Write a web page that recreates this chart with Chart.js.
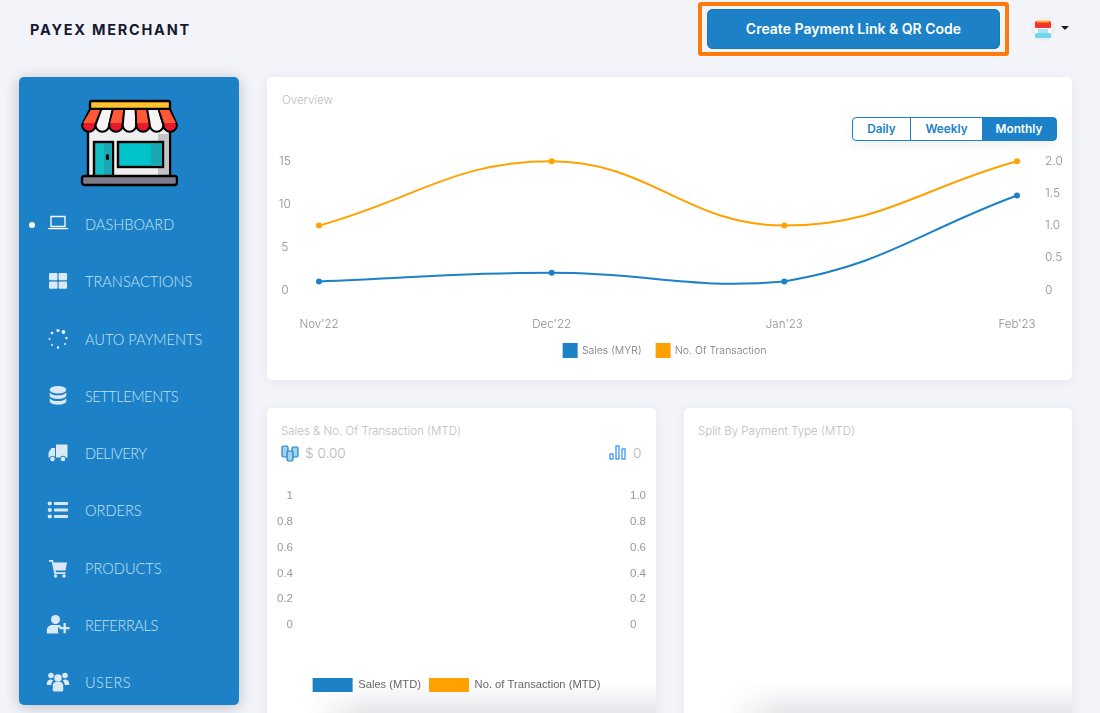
<!DOCTYPE html>
<html><head><meta charset="utf-8">
<script src="https://cdn.jsdelivr.net/npm/chart.js@4"></script>
<style>
*{box-sizing:border-box}
html,body{margin:0;padding:0;width:1100px;height:713px;overflow:hidden;background:#f3f4f9;font-family:Inter,"Open Sans",sans-serif}
.abs{position:absolute}
.brand{left:30px;top:21px;font-size:14.5px;font-weight:700;letter-spacing:1.75px;color:#161a30}
.ctaBox{left:698px;top:2px;width:311px;height:54px;border:4px solid #ff7a0b;border-radius:3px;}
.cta{left:707px;top:9px;width:293px;height:40px;padding-bottom:2px;background:#1c81c6;border-radius:6px;color:#fff;font-size:14px;font-weight:600;display:flex;align-items:center;justify-content:center;box-shadow:0 0 0 1px #1a78ba inset}
.side{left:19px;top:77px;width:220px;height:628px;background:#1c81c6;border-radius:5px;box-shadow:0 2px 14px rgba(60,60,90,.3)}
.nav{position:absolute;left:85px;margin-top:1px;font-family:Lato,Inter,sans-serif;font-size:14.6px;font-weight:300;color:#c6e1f5;line-height:20px;transform:translateY(-50%);white-space:nowrap}
.nicon{position:absolute;left:46px;width:24px;height:24px;transform:translateY(-50%);fill:#d9e9f6}
.card{position:absolute;background:#fff;border-radius:5px;box-shadow:0 1px 12px rgba(70,70,110,.07);overflow:hidden}
.title{position:absolute;font-size:11.5px;font-weight:300;color:#bdbdbd;white-space:nowrap}
.btns{left:852px;top:117px;width:205px;height:24px;border:1px solid #1c81c6;border-radius:4px;display:flex;font-size:11.8px;font-weight:600;color:#1c81c6;background:#fff;box-shadow:0 4px 10px rgba(60,60,90,.08)}
.btns div{display:flex;align-items:center;justify-content:center}
.shade{position:absolute;bottom:0;height:30px;background:linear-gradient(to bottom,rgba(225,226,230,0),rgba(225,226,230,.85));-webkit-mask-image:linear-gradient(to right,transparent 0,#000 60px,#000 100%)}
canvas{position:absolute}
</style></head>
<body>
<div class="abs brand">PAYEX MERCHANT</div>
<div class="abs ctaBox"></div>
<div class="abs cta">Create Payment Link &amp; QR Code</div>
<svg class="abs" style="left:1030px;top:16px" width="46" height="26" viewBox="0 0 46 26">
<circle cx="13" cy="13" r="12" fill="#eeeeee"/>
<rect x="5" y="5" width="16" height="8" rx="2" fill="#f0372f"/><rect x="7" y="4.500" width="12" height="2" fill="#ffb02e"/>
<rect x="5" y="12" width="16" height="6" fill="#f7f7f7"/><rect x="5" y="17" width="16" height="5" rx="1.500" fill="#6fd6ec"/><rect x="8" y="13" width="10" height="4" fill="#a9e3f0"/>
<path d="M31 10h8l-4 4z" fill="#1b1b2a"/>
</svg>

<div class="abs side"></div>
<svg id="shop" class="abs" style="left:80px;top:98px" width="98" height="90" viewBox="0 0 98 90">
<rect x="10" y="3" width="80" height="8" rx="1.500" fill="#ffc22e" stroke="#000" stroke-width="2.400"/>
<rect x="8" y="30" width="82" height="50" fill="#efefef" stroke="#000" stroke-width="2.400"/>
<rect x="78" y="36" width="11" height="42" fill="#c3c3c6"/>
<rect x="14" y="44" width="19" height="35" fill="#12bfc6" stroke="#000" stroke-width="2.400"/>
<rect x="24" y="46" width="8" height="31" fill="#1ca6b3"/><rect x="26" y="56" width="3" height="6" rx="1.500" fill="#000"/>
<rect x="38" y="44" width="45" height="25" fill="#00c4c9" stroke="#000" stroke-width="2.400"/><rect x="71" y="46" width="11" height="22" fill="#1aa9b2"/>
<rect x="2" y="78" width="95" height="9" rx="2.500" fill="#7b7b8a" stroke="#000" stroke-width="2.400"/>
</svg>
<div class="abs" style="left:29px;top:222px;width:6px;height:6px;border-radius:50%;background:#fff"></div>

<div class="nav" style="top:224px">DASHBOARD</div>
<div class="nav" style="top:281px">TRANSACTIONS</div>
<div class="nav" style="top:339px">AUTO PAYMENTS</div>
<div class="nav" style="top:396px;letter-spacing:-.45px">SETTLEMENTS</div>
<div class="nav" style="top:453px;letter-spacing:-.6px">DELIVERY</div>
<div class="nav" style="top:510px">ORDERS</div>
<div class="nav" style="top:568px">PRODUCTS</div>
<div class="nav" style="top:625px;letter-spacing:-.4px">REFERRALS</div>
<div class="nav" style="top:682px;letter-spacing:.5px">USERS</div>

<svg class="nicon" style="top:224px" viewBox="0 0 24 24"><path fill="none" stroke="#fff" stroke-width="1.300" d="M5 4.500h14v10H5z"/><path fill="#fff" d="M1.500 16h21l-1 1.200h-19z"/></svg>
<svg class="nicon" style="top:281px" viewBox="0 0 24 24"><rect x="3" y="4" width="8.500" height="7.300" rx="1.200"/><rect x="12.600" y="4" width="8.500" height="7.300" rx="1.200"/><rect x="3" y="12.500" width="8.500" height="7.300" rx="1.200"/><rect x="12.600" y="12.500" width="8.500" height="7.300" rx="1.200"/></svg>
<svg class="nicon" style="top:339px" viewBox="0 0 24 24"><g fill="#e9f2fa"><circle cx="12" cy="3.500" r="1.600"/><circle cx="17.500" cy="5" r="1.900"/><circle cx="20.500" cy="11" r="1.200"/><circle cx="19" cy="17" r="1"/><circle cx="12" cy="20.500" r="1.200"/><circle cx="6" cy="18" r="1"/><circle cx="3.500" cy="12" r="1"/><circle cx="6" cy="6" r="1.300"/></g></svg>
<svg class="nicon" style="top:396px" viewBox="0 0 24 24"><ellipse cx="12" cy="5.800" rx="8.300" ry="3.800"/><path d="M3.700 8.500c1.500 2 4.500 2.800 8.300 2.800s6.800-.8 8.300-2.800v3.500c-1 2-4.500 3-8.300 3s-7.300-1-8.300-3zM3.700 14.300c1.500 2 4.500 2.800 8.300 2.800s6.800-.8 8.300-2.800v3.500c-1 2-4.500 3-8.300 3s-7.300-1-8.300-3z"/></svg>
<svg class="nicon" style="top:453px" viewBox="0 0 24 24"><path d="M10 3.500h11.500v13H10zM9 7H5.500L2.500 11.500v5H9z"/><circle cx="6.500" cy="18" r="2.800" stroke="#1c81c6"/><circle cx="17" cy="18" r="2.800" stroke="#1c81c6"/></svg>
<svg class="nicon" style="top:510px" viewBox="0 0 24 24"><circle cx="3.800" cy="5.500" r="2.100"/><circle cx="3.800" cy="12" r="2.100"/><circle cx="3.800" cy="18.500" r="2.100"/><rect x="8" y="4" width="14" height="3" rx=".7"/><rect x="8" y="10.500" width="14" height="3" rx=".7"/><rect x="8" y="17" width="14" height="3" rx=".7"/></svg>
<svg class="nicon" style="top:568px" viewBox="0 0 24 24"><path d="M3 4h4l.6 2.500H21l-1.500 8H9.500l.4 1.800h9.600v1.700H8.300L5.700 5.700H3z"/><circle cx="9.500" cy="20" r="1.700"/><circle cx="18" cy="20" r="1.700"/></svg>
<svg class="nicon" style="top:625px" viewBox="0 0 24 24"><circle cx="9.500" cy="6.500" r="4.500"/><path d="M.8 20.500v-3c0-3.500 2.700-5.500 6-5.500h5.500c1 0 2 .3 2.700.7v1.800h-3v5.500l1.500.5z"/><path d="M18 10.500h2.300v4H24v2.300h-3.700v4H18v-4h-4v-2.300h4z" transform="translate(-.5 -.5)"/></svg>
<svg class="nicon" style="top:682px" viewBox="0 0 24 24"><circle cx="5" cy="5.500" r="2.800"/><circle cx="19" cy="5.500" r="2.800"/><circle cx="12" cy="8" r="3.800"/><path d="M.8 14c0-3 1.500-4.500 4-4.500 1 0 1.800.3 2.500 1-1.200 1.200-2 2.800-2 4.500H.8zM23.200 14c0-3-1.500-4.500-4-4.500-1 0-1.800.3-2.500 1 1.200 1.200 2 2.800 2 4.500h4.500zM6.800 15.500c0-2.300 1.500-3.500 3-3.500h4.400c1.500 0 3 1.200 3 3.500v4.500c0 1-1 1.500-2 1.500H8.800c-1 0-2-.5-2-1.500z"/></svg>

<div class="card" style="left:267px;top:77px;width:805px;height:303px"></div>
<div class="title" style="left:282px;top:93px">Overview</div>
<div class="abs btns">
  <div style="width:58px;border-right:1.500px solid #1c81c6">Daily</div>
  <div style="width:71px">Weekly</div>
  <div style="flex:1;background:#1c81c6;color:#fff">Monthly</div>
</div>

<div class="card" style="left:267px;top:408px;width:389px;height:320px"><div class="shade" style="left:40px;right:0;bottom:15px"></div></div>
<div class="title" style="left:281px;top:424px">Sales &amp; No. Of Transaction (MTD)</div>
<svg class="abs" style="left:281px;top:445px" width="18" height="17" viewBox="0 0 18 17"><g fill="#9fd2ee" stroke="#1c81c6" stroke-width="1.200"><rect x="1" y="1" width="6" height="11" rx="1.500"/><rect x="11" y="2" width="6" height="10" rx="1.500"/><rect x="6" y="6" width="6" height="10" rx="1.500"/></g></svg>
<div class="abs" style="left:305px;top:445px;font-size:13.600px;font-weight:300;color:#b5b5b5">$ 0.00</div>
<svg class="abs" style="left:609px;top:445px" width="17" height="15" viewBox="0 0 17 15"><g fill="none" stroke="#2d8ff0" stroke-width="1.200"><rect x="1" y="9" width="3" height="5"/><rect x="7" y="1" width="3" height="13"/><rect x="13" y="4" width="3" height="10"/></g></svg>
<div class="abs" style="left:633px;top:445px;font-size:13.600px;font-weight:300;color:#b5b5b5">0</div>

<div class="card" style="left:684px;top:408px;width:388px;height:320px"><div class="shade" style="left:40px;right:0;bottom:15px"></div></div>
<div class="title" style="left:698px;top:424px">Split By Payment Type (MTD)</div>

<canvas id="overview" style="left:265px;top:134px;width:800px;height:233px" width="800" height="233"></canvas>
<canvas id="mtd" style="left:267px;top:480px;width:379px;height:222px" width="379" height="222"></canvas>

<script>
const months = ["Nov'22", "Dec'22", "Jan'23", "Feb'23"];
const salesMyr = [1, 2, 1, 11];
const txnCount = [1, 2, 1, 2];
const leftTicks = [0, 5, 10, 15];
const rightTicks = [0, 0.5, 1, 1.5, 2];
const mtdTicks = [0, 0.2, 0.4, 0.6, 0.8, 1];
const mtdCategories = [""];
const salesMtd = [0];
const txnMtd = [0];

const BLUE = '#1c81c6', ORANGE = '#ffa200';
Chart.defaults.animation = false;
Chart.defaults.responsive = false;
Chart.defaults.devicePixelRatio = 1;

const fit = (w) => (s) => { s.width = w; };

// awning decoration for the shop logo
(function () {
  const NS = 'http://www.w3.org/2000/svg', svg = document.getElementById('shop');
  for (let i = 0; i < 7; i++) {
    const t0 = 10 + i * 80 / 7, t1 = 10 + (i + 1) * 80 / 7, b0 = 2 + i * 95 / 7, b1 = 2 + (i + 1) * 95 / 7;
    const red = i % 2 === 0, r = (b1 - b0) / 2;
    const p = document.createElementNS(NS, 'path');
    p.setAttribute('d', `M${t0} 11L${t1} 11L${b1} 27A${r} ${r} 0 0 1 ${b0} 27Z`);
    p.setAttribute('fill', red ? '#e8192c' : '#f5f5f5');
    p.setAttribute('stroke', '#000'); p.setAttribute('stroke-width', '2');
    svg.appendChild(p);
    if (red) {
      const q = document.createElementNS(NS, 'path');
      q.setAttribute('d', `M${t0 + 1} 12L${t1 - 1} 12L${b1 - 1} 25L${b0 + 1} 25Z`);
      q.setAttribute('fill', '#ff5a35');
      svg.appendChild(q);
    }
  }
})();

new Chart(document.getElementById('overview'), {
  type: 'line',
  data: { labels: months, datasets: [
    { label: 'Sales (MYR)', data: salesMyr, yAxisID: 'y', borderColor: BLUE, backgroundColor: BLUE, borderWidth: 2, tension: 0.42, pointRadius: 3, pointHoverRadius: 3, pointBackgroundColor: BLUE, pointBorderWidth: 0, clip: false },
    { label: 'No. Of Transaction', data: txnCount, yAxisID: 'y1', borderColor: ORANGE, backgroundColor: ORANGE, borderWidth: 2, tension: 0.42, pointRadius: 3, pointHoverRadius: 3, pointBackgroundColor: ORANGE, pointBorderWidth: 0, clip: false }
  ]},
  options: {
    layout: { padding: { top: 15, bottom: 0, left: 0, right: 0 } },
    plugins: { tooltip: { enabled: false },
      legend: { position: 'bottom', labels: { boxWidth: 13, boxHeight: 13, padding: 15, color: '#777', font: { family: 'Inter', size: 10.5, weight: 300 } } } },
    scales: {
      x: { offset: false, grid: { display: false }, border: { display: false }, afterFit: s => { s.height = 39; },
        ticks: { color: '#8d8d8d', maxRotation: 0, padding: 20, font: { family: 'Inter', size: 11.5, weight: 300 } } },
      y: { position: 'left', min: 0, max: 15, afterBuildTicks: s => { s.ticks = leftTicks.map(v => ({ value: v })); }, afterFit: fit(54),
        grid: { display: false }, border: { display: false },
        ticks: { color: '#8d8d8d', crossAlign: 'center', padding: 20, font: { family: 'Inter', size: 12, weight: 300 } } },
      y1: { position: 'right', min: 0, max: 2, afterBuildTicks: s => { s.ticks = rightTicks.map(v => ({ value: v })); }, afterFit: fit(48),
        grid: { display: false }, border: { display: false },
        ticks: { color: '#8d8d8d', padding: 20, callback: v => v === 0 ? '0' : v.toFixed(1), font: { family: 'Inter', size: 12, weight: 300 } } }
    }
  }
});

new Chart(document.getElementById('mtd'), {
  type: 'bar',
  data: { labels: mtdCategories, datasets: [
    { label: 'Sales (MTD)', data: salesMtd, yAxisID: 'y', backgroundColor: BLUE },
    { label: 'No. of Transaction (MTD)', data: txnMtd, yAxisID: 'y1', backgroundColor: ORANGE }
  ]},
  options: {
    layout: { padding: { top: 16, bottom: 0, left: 0, right: 0 } },
    plugins: { tooltip: { enabled: false },
      legend: { position: 'bottom', labels: { boxWidth: 40, boxHeight: 14, padding: 8, color: '#666', font: { family: 'Liberation Sans', size: 11.2 } } } },
    scales: {
      x: { grid: { display: false }, border: { display: false }, ticks: { display: false }, afterFit: s => { s.height = 45; } },
      y: { position: 'left', min: 0, max: 1, afterBuildTicks: s => { s.ticks = mtdTicks.map(v => ({ value: v })); }, afterFit: fit(38),
        grid: { display: false }, border: { display: false },
        ticks: { color: '#999', padding: 4, callback: v => String(v), font: { family: 'Liberation Sans', size: 11.5 } } },
      y1: { position: 'right', min: 0, max: 1, afterBuildTicks: s => { s.ticks = mtdTicks.map(v => ({ value: v })); }, afterFit: fit(28),
        grid: { display: false }, border: { display: false },
        ticks: { color: '#999', padding: 4, callback: v => (v === 0 ? '0' : v.toFixed(1)), font: { family: 'Liberation Sans', size: 11.5 } } }
    }
  }
});
</script>
</body></html>
